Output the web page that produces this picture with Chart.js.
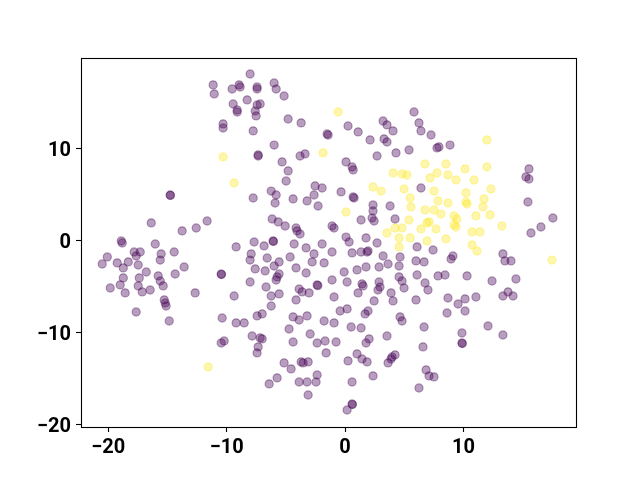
<!DOCTYPE html>
<html>
<head>
<meta charset="utf-8">
<script src="https://cdn.jsdelivr.net/npm/chart.js@4/dist/chart.umd.min.js"></script>
<style>
html,body{margin:0;padding:0;background:#fff;}
canvas{display:block;}
</style>
</head>
<body>
<canvas id="c" width="640" height="480"></canvas>
<script>
// Tick values
const xTicks = [-20, -10, 0, 10];
const yTicks = [-20, -10, 0, 10];

// Class 0 (purple) points
const class0X = [
-8.02,-11.14,-11.05,-9.54,-8.95,-8.86,-7.43,-7.43,-5.99,-5.82,-5.15,-8.27,-9.45,-9.11,-9.11,-7.17,-7.43,-7.59,-7.51,-4.81,
-3.71,-10.30,-10.30,-7.76,-1.52,-1.43,-5.99,-7.34,-7.34,-3.80,-3.38,-5.32,-4.81,-4.98,5.82,3.21,3.54,6.24,0.25,1.10,
4.05,6.41,7.26,2.11,3.29,3.54,8.86,7.76,7.93,5.40,4.30,2.70,0.08,0.59,0.68,15.53,15.27,15.53,-14.77,-14.75,
-16.37,-13.76,-12.57,-11.65,-18.90,-18.82,-16.03,-14.43,-17.81,-17.30,-17.64,-15.53,-15.61,-20.08,-20.51,-19.24,-18.31,-17.47,-18.73,-13.59,
-16.79,-14.35,-18.73,-17.38,-15.78,-15.61,-15.36,-18.99,-17.47,-19.83,-17.13,-16.46,-18.57,-12.66,-15.27,-15.19,-15.11,-17.64,-14.85,-6.24,
-5.82,-5.91,-7.76,-4.39,-2.53,-1.94,-2.62,-3.21,-2.28,-6.16,-5.65,-5.06,-4.14,-4.05,-3.80,-1.10,-0.93,-6.08,-6.05,-7.68,
-6.84,-9.20,-4.30,-3.29,-1.94,-2.62,-1.10,-7.93,-8.02,-6.58,-4.64,-2.78,-1.77,-5.57,-5.99,-7.59,-6.75,-4.14,-3.29,-10.46,
-10.44,-5.57,-5.82,-5.74,-8.02,-6.67,-3.88,-3.63,-3.04,-2.36,-2.30,-1.10,-6.24,-5.57,-9.37,-4.14,-6.24,-0.34,0.76,0.68,
6.41,2.36,2.36,3.80,1.35,2.28,2.45,4.22,0.08,0.34,1.77,2.70,0.59,1.35,1.86,1.94,3.21,4.64,6.08,7.43,
9.11,8.95,4.56,5.99,6.67,3.63,2.87,1.77,1.01,-0.08,6.08,4.56,4.81,4.98,2.87,2.95,1.43,1.52,0.17,1.10,
2.78,3.88,6.75,7.00,7.85,8.44,-0.93,2.45,4.05,5.99,8.69,15.44,17.55,16.54,15.70,13.33,13.50,14.01,10.30,12.41,
14.43,13.76,13.33,14.18,11.05,10.13,9.54,10.13,12.07,9.87,13.33,9.87,9.90,-10.38,-9.20,-8.52,-7.43,-7.00,-4.39,-3.88,
-3.21,-4.73,-1.77,-0.93,-7.85,-7.17,-7.00,-7.34,-7.43,-10.46,-10.21,-4.39,-2.95,-2.36,-1.69,-1.60,-0.76,-5.15,-4.56,-3.71,
-3.54,-3.12,-5.74,-6.41,-3.88,-3.21,-2.45,-2.36,-3.12,-0.42,0.17,1.69,1.94,0.51,1.35,4.64,4.81,6.67,8.61,3.54,
1.77,2.03,6.58,1.01,1.43,1.86,0.25,3.97,4.22,3.88,3.63,2.36,6.84,7.09,7.51,0.59,6.24,0.59,0.62,0.17
];
const class0Y = [
18.15,16.96,15.98,16.52,16.96,16.74,16.74,16.52,17.17,16.52,15.76,15.33,14.89,14.24,14.02,14.89,14.78,14.13,13.59,13.26,
12.83,12.72,12.28,11.96,11.63,11.52,10.43,9.35,9.24,9.24,9.46,8.59,7.61,6.52,14.02,13.04,12.61,12.83,12.50,11.85,
11.96,11.96,11.52,10.98,11.09,10.76,10.43,10.11,10.22,9.89,9.57,9.24,8.59,8.04,7.72,7.83,6.96,6.74,5.00,4.95,
1.96,1.09,1.41,2.17,0.00,-0.22,-0.33,-1.20,-1.20,-1.20,-1.63,-1.41,-2.07,-1.74,-2.50,-2.39,-2.28,-2.61,-2.93,-2.83,
-3.37,-3.59,-4.02,-4.02,-3.80,-4.35,-4.89,-4.78,-4.89,-5.11,-5.54,-5.33,-5.65,-5.65,-6.41,-6.74,-7.07,-7.72,-8.70,5.43,
5.00,4.13,4.67,4.57,5.98,5.76,5.00,4.35,3.80,2.39,2.07,1.63,1.41,1.09,0.76,1.63,1.41,0.00,-0.05,-0.11,
-0.54,-0.65,-0.33,-0.76,-0.33,-1.41,-1.20,-1.41,-2.07,-1.85,-1.74,-2.28,-2.39,-2.28,-2.72,-3.04,-3.26,-2.93,-3.48,-3.59,
-3.65,-3.59,-4.24,-3.91,-4.46,-5.00,-5.22,-5.54,-5.65,-4.78,-4.85,-4.24,-5.98,-5.76,-5.98,-6.41,-7.07,5.33,4.67,4.78,
5.76,3.91,3.26,3.80,2.28,2.50,2.17,2.39,0.43,-0.11,0.33,-0.22,-1.30,-1.20,-1.20,-1.09,-1.63,-1.74,-0.65,-0.98,
-1.63,-1.96,-2.72,-2.17,-2.28,-2.50,-2.83,-2.83,-3.15,-3.37,-3.70,-3.91,-4.35,-5.11,-4.46,-5.00,-4.67,-4.89,-4.46,-5.65,
-5.33,-5.65,-4.57,-5.33,-3.80,-3.70,-6.09,-6.52,-6.52,-6.41,-6.20,4.24,2.50,1.52,0.87,-1.41,-2.17,-2.17,-3.80,-4.35,
-4.13,-5.54,-5.98,-5.98,-6.09,-6.30,-6.85,-7.61,-9.24,-10.00,-10.22,-11.09,-11.15,-8.37,-8.91,-8.91,-8.15,-7.93,-8.26,-8.59,
-8.15,-9.57,-8.70,-8.91,-10.33,-10.54,-10.65,-11.52,-12.17,-11.09,-10.87,-10.98,-10.11,-11.09,-10.87,-12.17,-10.98,-13.26,-13.91,-13.15,
-13.26,-13.15,-14.89,-15.54,-15.33,-15.33,-15.33,-14.57,-16.74,-7.61,-7.39,-7.93,-7.61,-9.35,-9.46,-8.26,-8.70,-9.35,-7.83,-10.33,
-11.09,-10.65,-11.52,-12.28,-12.83,-13.15,-13.04,-12.61,-12.39,-12.83,-13.26,-14.67,-14.02,-14.67,-14.78,-15.33,-15.98,-17.72,-17.78,-18.37
];

// Class 1 (yellow) points
const class1X = [
-10.30,-1.86,-9.37,-0.59,6.75,8.52,4.05,4.81,5.23,7.17,7.76,8.69,9.37,11.98,11.98,10.13,10.89,2.36,3.04,4.98,
7.51,5.49,5.57,7.85,8.69,6.75,7.51,8.10,9.20,0.08,5.40,6.92,7.09,9.20,4.22,4.81,6.41,7.68,3.54,4.56,
5.49,6.92,8.52,4.56,12.32,10.21,10.21,10.30,11.73,11.65,11.05,12.24,9.45,9.37,13.25,10.72,11.39,10.72,11.14,17.47,
-11.56
];
const class1Y = [
9.13,9.57,6.30,14.02,8.37,8.37,7.39,7.28,7.17,6.85,7.39,7.17,6.63,10.98,8.04,7.83,6.63,5.87,5.43,5.65,
5.43,4.67,3.70,4.35,4.13,3.37,3.37,2.93,2.72,3.15,2.28,1.96,2.07,1.74,1.41,1.41,1.30,1.30,0.87,0.33,
0.33,0.00,0.22,-0.65,5.65,5.22,4.24,4.02,4.57,3.70,2.72,2.83,2.39,1.52,1.63,0.98,0.98,-0.43,-1.09,-2.07,
-13.70
];

const toPts = (xs, ys) => xs.map((x, i) => ({x: x, y: ys[i]}));

const frame = {
  id: 'frame',
  afterDatasetsDraw(chart) {
    const a = chart.chartArea, ctx = chart.ctx;
    ctx.save();
    ctx.strokeStyle = '#000';
    ctx.lineWidth = 1.1;
    ctx.strokeRect(Math.round(a.left) + 0.5, Math.round(a.top) + 0.5,
                   Math.round(a.right - a.left), Math.round(a.bottom - a.top));
    ctx.restore();
  }
};

const tickFont = {family: 'Roboto', size: 20, weight: 'bold'};
const fmt = v => (v < 0 ? '\u2212' + Math.abs(v) : String(v));

new Chart(document.getElementById('c'), {
  type: 'scatter',
  data: {
    datasets: [
      {
        data: toPts(class0X, class0Y),
        backgroundColor: 'rgba(68,1,84,0.38)',
        borderColor: 'rgba(68,1,84,0.38)',
        borderWidth: 1.1,
        pointRadius: 4.1,
        pointHoverRadius: 4.1
      },
      {
        data: toPts(class1X, class1Y),
        backgroundColor: 'rgba(253,231,37,0.38)',
        borderColor: 'rgba(253,231,37,0.38)',
        borderWidth: 1.1,
        pointRadius: 4.1,
        pointHoverRadius: 4.1
      }
    ]
  },
  options: {
    responsive: false,
    animation: false,
    devicePixelRatio: 1,
    layout: {padding: {left: 0, top: 58, right: 64, bottom: 0}},
    plugins: {legend: {display: false}, tooltip: {enabled: false}},
    scales: {
      x: {
        type: 'linear',
        min: -22.3, max: 19.5,
        afterBuildTicks: s => { s.ticks = xTicks.map(v => ({value: v})); },
        afterFit: s => { s.height = 53; },
        border: {display: false},
        grid: {display: true, drawOnChartArea: false, drawTicks: true, tickLength: 5, tickColor: '#000', tickWidth: 1.1},
        ticks: {color: '#000', font: tickFont, padding: 4, maxRotation: 0, callback: fmt}
      },
      y: {
        type: 'linear',
        min: -20.22, max: 19.89,
        afterBuildTicks: s => { s.ticks = yTicks.map(v => ({value: v})); },
        afterFit: s => { s.width = 81; },
        border: {display: false},
        grid: {display: true, drawOnChartArea: false, drawTicks: true, tickLength: 5, tickColor: '#000', tickWidth: 1.1},
        ticks: {color: '#000', font: tickFont, padding: 5, labelOffset: 2, callback: fmt}
      }
    }
  },
  plugins: [frame]
});
</script>
</body>
</html>
